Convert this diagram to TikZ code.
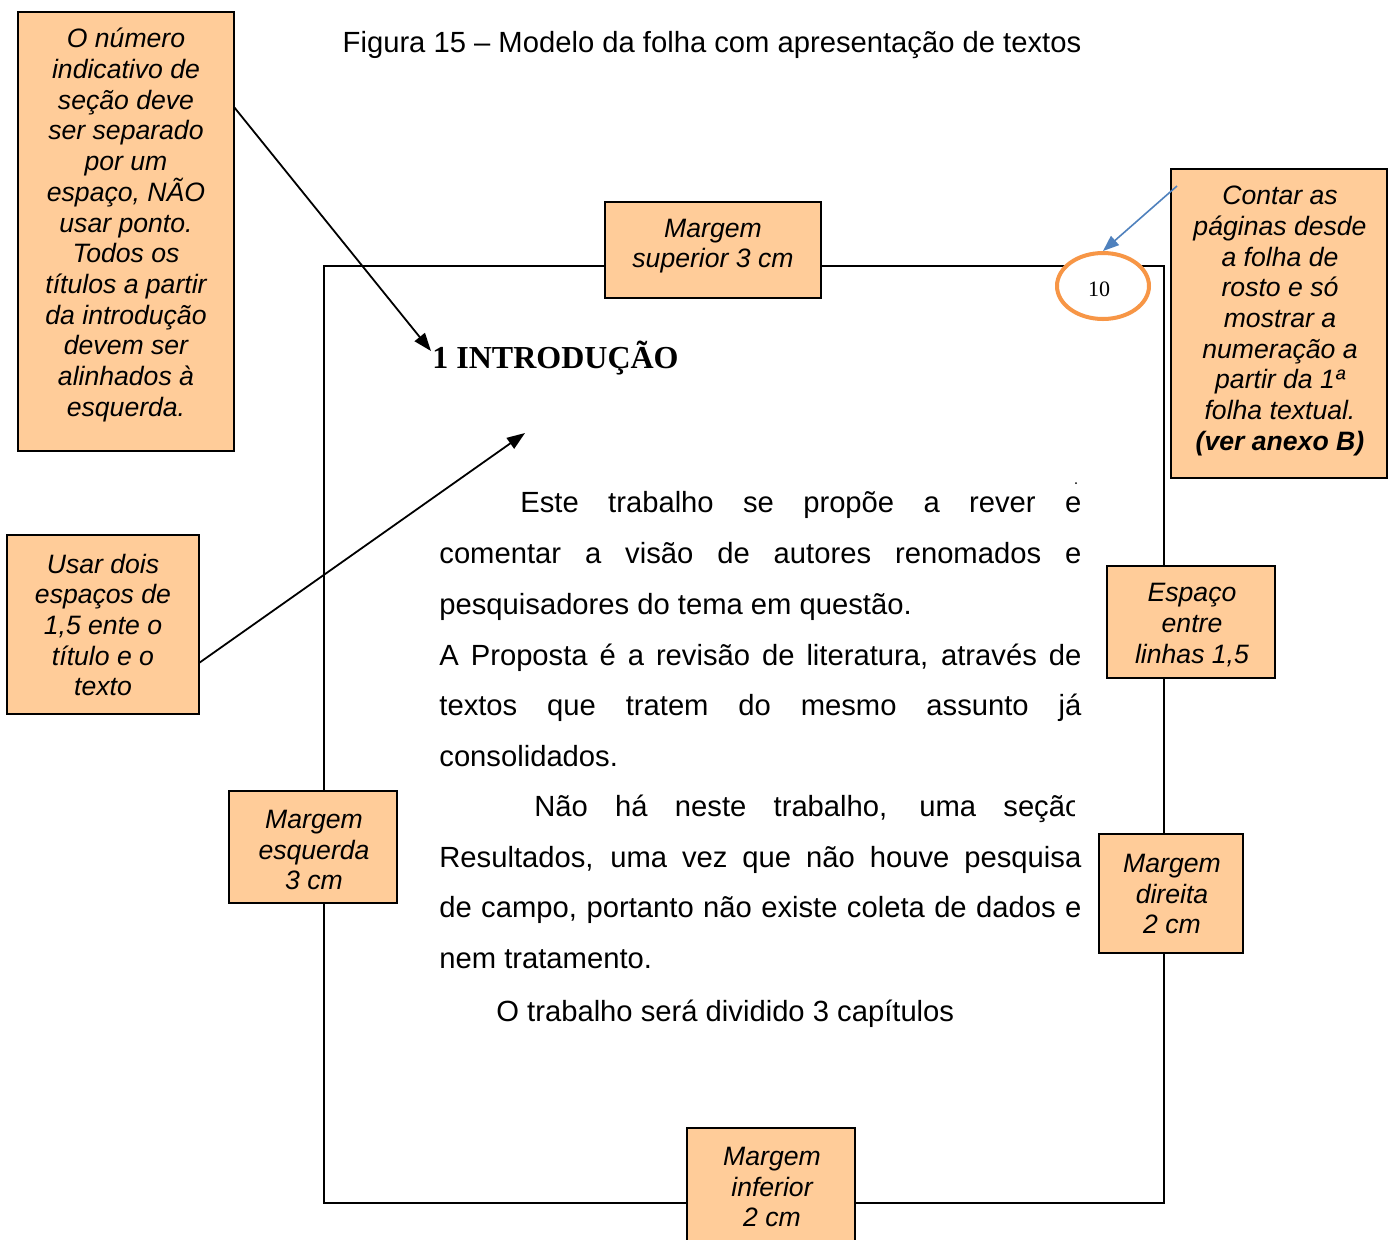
\documentclass[tikz,border=0pt]{standalone}
\usepackage{fontspec}
\setmainfont{Liberation Sans}
\newfontfamily\timesf{Liberation Serif}
\usetikzlibrary{arrows.meta,shapes.geometric,fit}
\definecolor{boxfill}{RGB}{255,204,153}
\definecolor{ringc}{RGB}{247,150,70}
\definecolor{arrowblue}{RGB}{79,129,189}
\begin{document}
\begin{tikzpicture}[x=0.5pt,y=-0.5pt,
  notebox/.style={draw=black, line width=1pt, fill=boxfill, inner sep=0},
  notetext/.style={align=center, font=\fontsize{13.3}{15.35}\selectfont\itshape, inner sep=0},
  bodyline/.style={anchor=base west, inner sep=0, font=\fontsize{14.6}{17}\selectfont},
  pointer/.style={-{Triangle[length=9pt,width=6.5pt]}, line width=0.9pt},
  bluepointer/.style={-{Triangle[length=8pt,width=6pt]}, line width=0.8pt, draw=arrowblue, fill=arrowblue}]
\useasboundingbox (0,0) rectangle (1389,1239);
\fill[white] (0,0) rectangle (1389,1239);

% caption
\node[anchor=base, inner sep=0, font=\fontsize{14.6}{17}\selectfont] (cap) at (712,52) {Figura 15 – Modelo da folha com apresentação de textos};

% page
\node[draw=black, line width=0.9pt, inner sep=0, fit={(324,266) (1164,1203)}] (page) {};

% page number ring
\node[draw=ringc, line width=2pt, fill=white, ellipse, minimum width=46pt, minimum height=33pt, inner sep=0] (ring) at (1103,286) {};
\node[inner sep=0, font=\timesf\fontsize{11}{13}\selectfont] (num) at (1099,289) {10};

% heading
\node[anchor=base west, inner sep=0, font=\timesf\bfseries\fontsize{16}{19}\selectfont] (head) at (432,368) {1 INTRODUÇÃO};

% body text
\node[bodyline] (l1) at (520,512) {\makebox[280.5pt][s]{Este trabalho se propõe a rever e}};
\node[bodyline] (l2) at (439,563) {\makebox[321pt][s]{comentar a visão de autores renomados e}};
\node[bodyline] (l3) at (439,614) {pesquisadores do tema em questão.};
\node[bodyline] (l4) at (439,665) {\makebox[321pt][s]{A Proposta é a revisão de literatura, através de}};
\node[bodyline] (l5) at (439,715) {\makebox[321pt][s]{textos que tratem do mesmo assunto já}};
\node[bodyline] (l6) at (439,766) {consolidados.};
\begin{scope}
\clip (430,770) rectangle (1074,840);
\node[bodyline] (l7) at (534,816) {\makebox[273.5pt][s]{Não há neste trabalho, uma seção}};
\end{scope}
\node[bodyline] (l8) at (439,867) {\makebox[321pt][s]{Resultados, uma vez que não houve pesquisa}};
\node[bodyline] (l9) at (439,917) {\makebox[321pt][s]{de campo, portanto não existe coleta de dados e}};
\node[bodyline] (l10) at (439,968) {nem tratamento.};
\begin{scope}
\clip (430,975) rectangle (953,1045);
\node[bodyline] (l11) at (496,1021) {O trabalho será dividido 3 capítulos};
\end{scope}
\fill (1076,483) circle (0.5pt);

% note boxes
\node[notebox, fit={(18,12) (234,451)}] (b1) {};
\node[notetext] (b1t) at (126,225) {O número\\indicativo de\\seção deve\\ser separado\\por um\\espaço, NÃO\\usar ponto.\\Todos os\\títulos a partir\\da introdução\\devem ser\\alinhados à\\esquerda.};

\node[notebox, fit={(7,535) (199,714)}] (b2) {};
\node[notetext] (b2t) at (103,625) {Usar dois\\espaços de\\1,5 ente o\\título e o\\texto};

\node[notebox, fit={(605,202) (821,298)}] (b3) {};
\node[notetext] (b3t) at (713,246) {Margem\\superior 3 cm};

\node[notebox, fit={(1171,169) (1387,478)}] (b4) {};
\node[notetext] (b4t) at (1280,321) {Contar as\\páginas desde\\a folha de\\rosto e só\\mostrar a\\numeração a\\partir da 1ª\\folha textual.\\\textbf{(ver anexo B)}};

\node[notebox, fit={(1107,566) (1275,678)}] (b5) {};
\node[notetext] (b5t) at (1192,625) {Espaço\\entre\\linhas 1,5};

\node[notebox, fit={(229,791) (397,903)}] (b6) {};
\node[notetext] (b6t) at (314,850) {Margem\\esquerda\\3 cm};

\node[notebox, fit={(1099,834) (1243,953)}] (b7) {};
\node[notetext] (b7t) at (1172,894) {Margem\\direita\\2 cm};

\node[notebox, fit={(687,1128) (855,1260)}] (b8) {};
\node[notetext] (b8t) at (772,1187) {Margem\\inferior\\2 cm};

% connectors
\coordinate (a1s) at (234,107);
\coordinate (a1e) at (431,351);
\draw[pointer] (a1s) -- (a1e);
\coordinate (a2s) at (199,663);
\coordinate (a2e) at (525,433);
\draw[pointer] (a2s) -- (a2e);
\coordinate (a3s) at (1177,186);
\draw[bluepointer] (a3s) -- (ring.north);
\end{tikzpicture}
\end{document}
